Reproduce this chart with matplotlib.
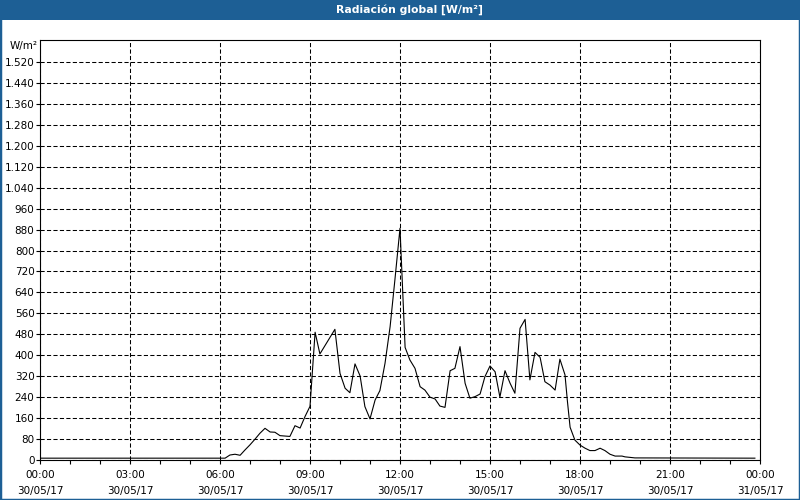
import matplotlib
matplotlib.use('Agg')
import matplotlib.pyplot as plt
from matplotlib.patches import Rectangle
from matplotlib.ticker import FixedLocator, MultipleLocator, FuncFormatter

# hour of day (30/05/17) and global radiation in W/m²
hours = [0.0, 6.17, 6.33, 6.5, 6.67, 6.83, 7.0, 7.17, 7.33, 7.5, 7.67, 7.83, 8.0,
         8.33, 8.5, 8.67, 8.83, 9.0, 9.17, 9.33, 9.83, 10.0, 10.17, 10.33, 10.5,
         10.67, 10.83, 11.0, 11.17, 11.33, 11.5, 11.67, 11.83, 12.0, 12.17, 12.33,
         12.5, 12.67, 12.83, 13.0, 13.17, 13.33, 13.5, 13.67, 13.83, 14.0, 14.17,
         14.33, 14.5, 14.67, 14.83, 15.0, 15.17, 15.33, 15.5, 15.67, 15.83, 16.0,
         16.17, 16.33, 16.5, 16.67, 16.83, 17.0, 17.17, 17.33, 17.5, 17.58, 17.67,
         17.83, 18.0, 18.17, 18.33, 18.5, 18.67, 18.83, 19.0, 19.17, 19.4, 19.5,
         19.67, 19.83, 23.83]
radiation = [7, 7, 19, 22, 18, 38, 58, 80, 102, 121, 107, 106, 93,
             90, 131, 122, 165, 205, 488, 405, 499, 331, 274, 257, 367,
             321, 204, 157, 229, 265, 369, 509, 688, 885, 430, 382,
             350, 280, 267, 240, 233, 206, 201, 341, 350, 433, 293,
             236, 242, 252, 318, 359, 337, 240, 341, 293, 255, 503,
             537, 306, 411, 392, 299, 286, 267, 385, 325, 225, 125,
             76, 57, 45, 36, 36, 45, 36, 22, 15, 15, 12,
             10, 8, 7]

x_ticks = [0, 3, 6, 9, 12, 15, 18, 21, 24]
x_labels = ['00:00\n30/05/17', '03:00\n30/05/17', '06:00\n30/05/17',
            '09:00\n30/05/17', '12:00\n30/05/17', '15:00\n30/05/17',
            '18:00\n30/05/17', '21:00\n30/05/17', '00:00\n31/05/17']
y_ticks = list(range(0, 1521, 80))

blue = '#1d5f95'
plt.rcParams['font.family'] = ['DejaVu Sans']

fig = plt.figure(figsize=(8, 5), dpi=100)
fig.patch.set_facecolor('white')

# title bar and frame
fig.patches.append(Rectangle((0, 0.96), 1, 0.04, transform=fig.transFigure,
                             facecolor=blue, edgecolor='none', zorder=0))
fig.patches.append(Rectangle((0, 0), 1, 1, transform=fig.transFigure,
                             fill=False, edgecolor=blue, linewidth=2.5, zorder=5))
fig.text(0.512, 0.98, 'Radiación global [W/m²]', color='white', fontsize=7.8,
         fontweight='bold', ha='center', va='center')

ax = fig.add_axes([0.05, 0.08, 0.9, 0.84])
ax.plot(hours, radiation, color='black', linewidth=0.8)

ax.set_xlim(0, 24)
ax.set_ylim(0, 1604)

ax.xaxis.set_major_locator(FixedLocator(x_ticks))
ax.set_xticklabels(x_labels, linespacing=1.75)
ax.xaxis.set_minor_locator(MultipleLocator(1))
ax.yaxis.set_major_locator(FixedLocator(y_ticks))
ax.yaxis.set_major_formatter(FuncFormatter(lambda v, p: f'{int(v):,}'.replace(',', '.')))

ax.tick_params(axis='both', which='both', direction='out', length=3,
               width=0.8, labelsize=7.5, color='black')
ax.tick_params(axis='x', pad=4)
ax.tick_params(axis='y', pad=1)

ax.grid(True, which='major', color='black', linestyle=(0, (4, 2.2)), linewidth=0.75)
for s in ax.spines.values():
    s.set_linewidth(0.8)

fig.text(0.012, 1 - 46 / 500, 'W/m²', fontsize=7.5, ha='left', va='center')

plt.savefig('out.png', dpi=100)
plt.close()
